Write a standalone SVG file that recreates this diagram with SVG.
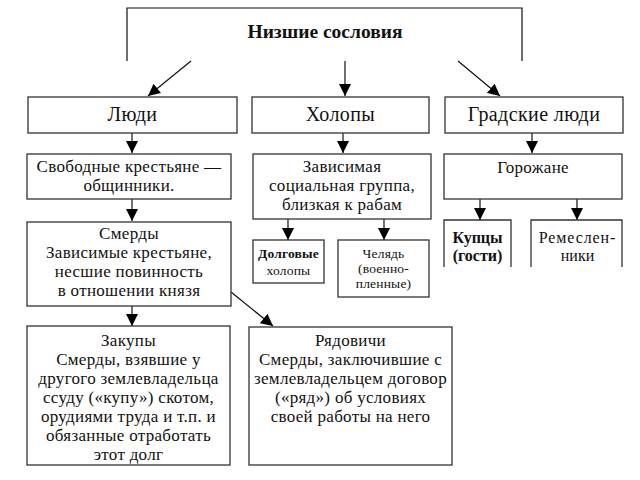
<svg xmlns="http://www.w3.org/2000/svg" width="640" height="480" viewBox="0 0 640 480" font-family="'Liberation Serif', 'DejaVu Serif', serif">
<defs>
<style>
.box{fill:#fff;stroke:#333;stroke-width:1.3}
.open{fill:none;stroke:#333;stroke-width:1.3}
text{font-family:'Liberation Serif','DejaVu Serif',serif}
.t{font-size:17px;letter-spacing:0.3px;fill:#111;text-anchor:middle}
.h{font-size:20px;letter-spacing:0.4px}
.s{font-size:13.5px;letter-spacing:0.2px}
.m{font-size:16px;letter-spacing:0}
.b{font-weight:bold}
.c{fill:none;stroke:#111;stroke-width:1.2}
</style>
<marker id="ah" markerUnits="userSpaceOnUse" markerWidth="12" markerHeight="12" viewBox="0 0 12 12" refX="12" refY="6" orient="auto">
<path d="M0,0 L12,6 L0,12 z" fill="#000"/>
</marker>
</defs>
<rect width="640" height="480" fill="#fff"/>
<g id="title">
<path class="c" d="M127,61 V8 H522 V61"/>
<text class="t b" x="325" y="38" style="font-size:19.5px;letter-spacing:0">Низшие сословия</text>
</g>
<g id="connectors">
<path class="c" d="M191,61 L148,96" marker-end="url(#ah)"/>
<path class="c" d="M345,61 L345,96" marker-end="url(#ah)"/>
<path class="c" d="M458,61 L500,96" marker-end="url(#ah)"/>
<path class="c" d="M132,133 L132,153" marker-end="url(#ah)"/>
<path class="c" d="M343,133 L343,153" marker-end="url(#ah)"/>
<path class="c" d="M532,133 L532,153" marker-end="url(#ah)"/>
<path class="c" d="M132,199 L132,221" marker-end="url(#ah)"/>
<path class="c" d="M288,219 L288,240" marker-end="url(#ah)"/>
<path class="c" d="M384,219 L384,240" marker-end="url(#ah)"/>
<path class="c" d="M480,199 L480,220" marker-end="url(#ah)"/>
<path class="c" d="M577,199 L577,220" marker-end="url(#ah)"/>
<path class="c" d="M132,306 L132,326" marker-end="url(#ah)"/>
<path class="c" d="M231,292 L273,326" marker-end="url(#ah)"/>
</g>
<g id="lyudi">
<rect class="box" x="28" y="97" width="209" height="36"/>
<text class="t h" x="132.5" y="121">Люди</text>
</g>
<g id="kholopy">
<rect class="box" x="252" y="97" width="177" height="36"/>
<text class="t h" x="340.5" y="121">Холопы</text>
</g>
<g id="gradskie">
<rect class="box" x="445" y="97" width="178" height="36"/>
<text class="t h" x="534" y="121">Градские люди</text>
</g>
<g id="svobodnye">
<rect class="box" x="27" y="154" width="204" height="45"/>
<text class="t" x="129" y="172">Свободные крестьяне —<tspan x="129" y="191">общинники.</tspan></text>
</g>
<g id="zavisimaya">
<rect class="box" x="253" y="154" width="178" height="65"/>
<text class="t" x="342" y="172">Зависимая<tspan x="342" y="191">социальная группа,</tspan><tspan x="342" y="210">близкая к рабам</tspan></text>
</g>
<g id="gorozhane">
<rect class="box" x="444" y="154" width="178" height="45"/>
<text class="t" x="533" y="173">Горожане</text>
</g>
<g id="smerdy">
<rect class="box" x="27" y="222" width="204" height="84"/>
<text class="t" x="129" y="239">Смерды<tspan x="129" y="258">Зависимые крестьяне,</tspan><tspan x="129" y="277">несшие повинность</tspan><tspan x="129" y="296">в отношении князя</tspan></text>
</g>
<g id="dolgovye">
<rect class="box" x="253" y="240" width="71" height="43"/>
<text class="t s" x="288.5" y="258"><tspan class="b">Долговые</tspan><tspan x="288.5" y="275">холопы</tspan></text>
</g>
<g id="chelyad">
<rect class="box" x="338" y="240" width="91" height="57"/>
<text class="t s" x="383.5" y="258">Челядь<tspan x="383.5" y="273">(военно-</tspan><tspan x="383.5" y="288">пленные)</tspan></text>
</g>
<g id="kuptsy">
<path class="open" d="M444,267 V220 H511 V267"/>
<text class="t m b" x="477.5" y="243">Купцы<tspan x="477.5" y="261">(гости)</tspan></text>
</g>
<g id="remeslenniki">
<path class="open" d="M531,267 V220 H622 V267"/>
<text class="t m" x="577.5" y="243" style="letter-spacing:0.9px">Ремеслен-<tspan x="577.5" y="261" style="letter-spacing:0">ники</tspan></text>
</g>
<g id="zakupy">
<rect class="box" x="27" y="326" width="203" height="139"/>
<text class="t" x="128.5" y="346">Закупы<tspan x="128.5" y="365">Смерды, взявшие у</tspan><tspan x="128.5" y="384">другого землевладельца</tspan><tspan x="128.5" y="403">ссуду («купу») скотом,</tspan><tspan x="128.5" y="422">орудиями труда и т.п. и</tspan><tspan x="128.5" y="441">обязанные отработать</tspan><tspan x="128.5" y="460">этот долг</tspan></text>
</g>
<g id="ryadovichi">
<rect class="box" x="249" y="327" width="203" height="138"/>
<text class="t" x="350.5" y="346">Рядовичи<tspan x="350.5" y="365">Смерды, заключившие с</tspan><tspan x="350.5" y="384">землевладельцем договор</tspan><tspan x="350.5" y="403">(«ряд») об условиях</tspan><tspan x="350.5" y="422">своей работы на него</tspan></text>
</g>
</svg>
